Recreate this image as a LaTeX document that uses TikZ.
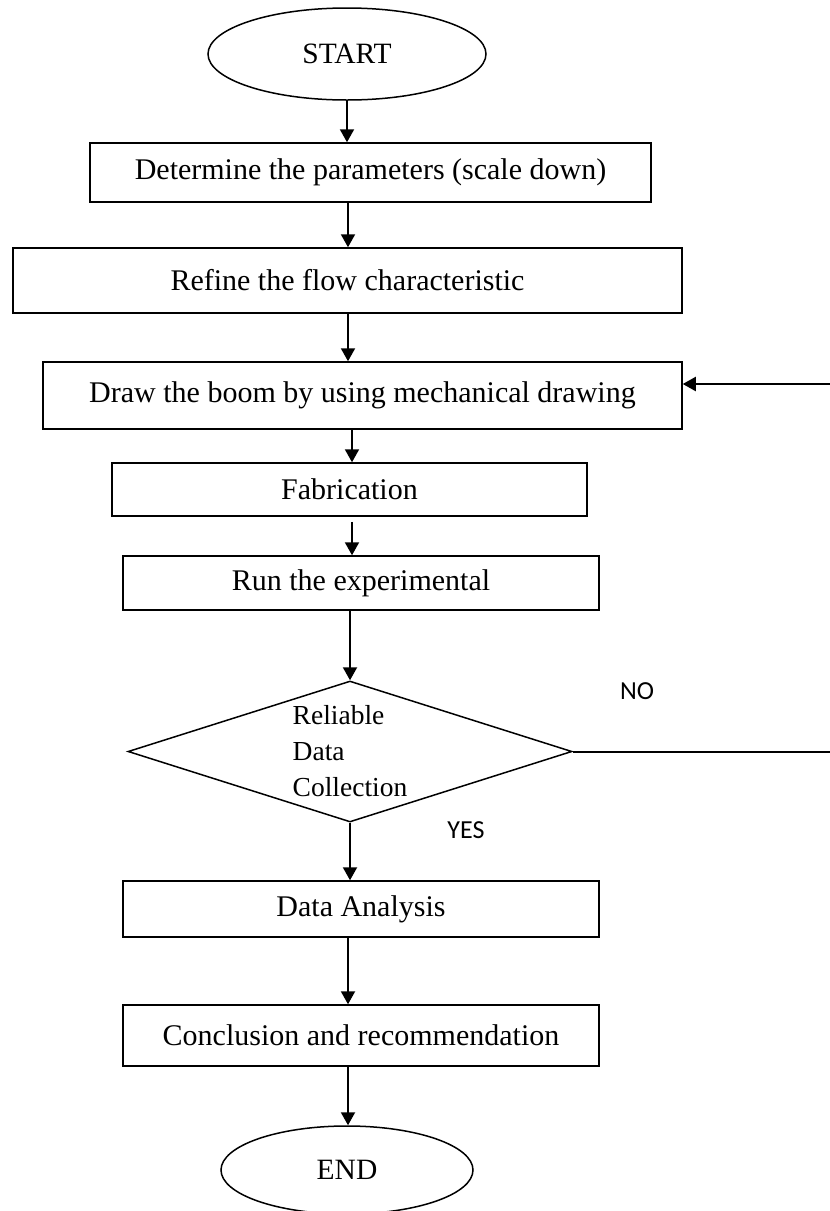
\documentclass[tikz,border=0pt]{standalone}
\usepackage{fontspec}
\setmainfont{Liberation Serif}
\newfontfamily\labelfont{Carlito}
\usetikzlibrary{shapes.geometric,arrows.meta}
\begin{document}
\begin{tikzpicture}[x=1pt,y=-1pt,
  box/.style={draw,line width=1.5pt,inner sep=0pt,font=\fontsize{30}{36}\selectfont},
  term/.style={ellipse,draw,line width=1.5pt,inner sep=0pt,font=\fontsize{29.5}{36}\selectfont},
  arr/.style={line width=2pt,-{Triangle[length=13pt,width=14pt]}},
  lbl/.style={font=\labelfont\fontsize{26}{30}\selectfont}]
\useasboundingbox[fill=white](0,0) rectangle (830,1211);
\coordinate (axl) at (348,0);
\coordinate (axr) at (352,0);
\node[term,minimum width=278,minimum height=92](start) at (347,54){START};
\node[box,minimum width=561,minimum height=59](param) at (370.5,172.5){Determine the parameters (scale down)};
\node[box,minimum width=669,minimum height=65](refine) at (347.5,280.5){Refine the flow characteristic};
\node[box,minimum width=639,minimum height=67](boom) at (362.5,395.5){Draw the boom by using mechanical drawing};
\node[box,minimum width=475,minimum height=53](fab) at (349.5,489.5){Fabrication};
\node[box,minimum width=476,minimum height=54](run) at (361,583){Run the experimental};
\node[diamond,draw,line width=1.5pt,inner sep=0pt,minimum width=444,minimum height=141,shape aspect=3.15,
  align=left,font=\fontsize{27.5}{36}\selectfont](dec) at (350,751.5){Reliable\\Data\\Collection};
\node[box,minimum width=476,minimum height=56](data) at (361,909){Data Analysis};
\node[box,minimum width=476,minimum height=61](concl) at (361,1035.5){Conclusion and recommendation};
\node[term,minimum width=252,minimum height=88](finish) at (347,1170){END};
\draw[arr](start.south)--(start.south|-param.north);
\draw[arr](axl|-param.south)--(axl|-refine.north);
\draw[arr](axl|-refine.south)--(axl|-boom.north);
\draw[arr](axr|-boom.south)--(axr|-fab.north);
\draw[arr]([yshift=-5pt]axr|-fab.south)--(axr|-run.north);
\draw[arr](dec.north|-run.south)--(dec.north);
\draw[arr](dec.south)--(dec.south|-data.north);
\draw[arr](axl|-data.south)--(axl|-concl.north);
\draw[arr](axl|-concl.south)--(axl|-finish.north);
% NO branch back to the drawing step
\coordinate (noend) at (830,751.5);
\coordinate (back) at (830,384);
\draw[line width=2pt](dec.east)--(noend);
\draw[arr](back)--(back-|boom.east);
\node[lbl](no) at (637,691){NO};
\node[lbl](yes) at (466,830){YES};
\end{tikzpicture}
\end{document}
